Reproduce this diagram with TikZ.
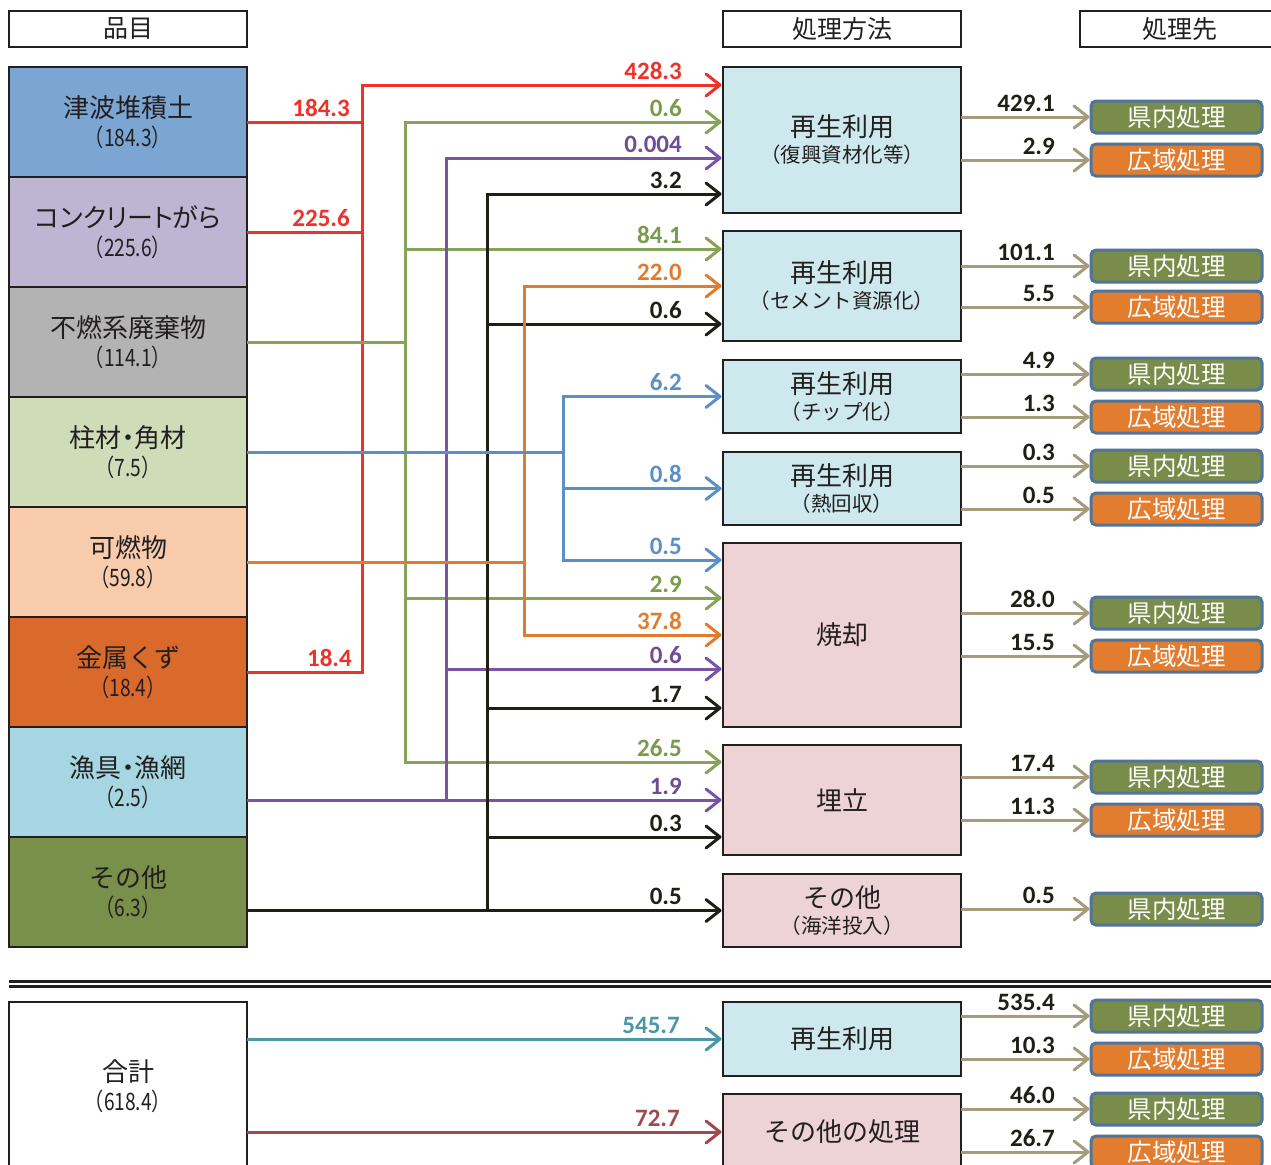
\documentclass[tikz,border=0pt]{standalone}
\usepackage{fontspec}
\newfontfamily\jp{Noto Sans CJK JP}
\newfontfamily\jpp{Noto Sans CJK JP}[RawFeature=+palt]
\newfontfamily\jpn{Noto Sans CJK JP}[FakeStretch=0.8]
\newfontfamily\numf{Carlito}
\usetikzlibrary{arrows.meta,calc}
\definecolor{cR}{HTML}{EE3129}
\definecolor{cG}{HTML}{88A25A}
\definecolor{cGl}{HTML}{7A9A4C}
\definecolor{cP}{HTML}{7B53A6}
\definecolor{cPl}{HTML}{6C4E95}
\definecolor{cK}{HTML}{1F1F17}
\definecolor{cO}{HTML}{E07C2F}
\definecolor{cB}{HTML}{5B8FC6}
\definecolor{cT}{HTML}{A49C7A}
\definecolor{cTe}{HTML}{4A97A9}
\definecolor{cBr}{HTML}{A2494D}
\definecolor{ink}{HTML}{231F20}
\definecolor{f1}{HTML}{7BA6D4}
\definecolor{f2}{HTML}{BEB5D2}
\definecolor{f3}{HTML}{B3B3B4}
\definecolor{f4}{HTML}{CEDCB8}
\definecolor{f5}{HTML}{F7CBAB}
\definecolor{f6}{HTML}{D96A2C}
\definecolor{f7}{HTML}{A5D6E2}
\definecolor{f8}{HTML}{78904A}
\definecolor{mB}{HTML}{CDE9EE}
\definecolor{mP}{HTML}{EDD2D6}
\definecolor{dG}{HTML}{7A8C4A}
\definecolor{dO}{HTML}{E27D30}
\definecolor{dBd}{HTML}{50749A}
\newcommand\subt[1]{{\jpn\fontsize{24}{29}\selectfont #1}}
\newcommand\msub[1]{{\fontsize{20.5}{26}\selectfont #1}}
\begin{document}
\begin{tikzpicture}[x=1pt,y=-1pt,
  box/.style={draw=ink, line width=2pt, inner sep=0pt, outer sep=0pt, align=center, text=ink},
  item/.style={box, minimum width=238pt, minimum height=110pt, font=\jp\fontsize{26}{29}\selectfont},
  meth/.style={box, minimum width=238pt, fill=mB, font=\jp\fontsize{26}{26}\selectfont},
  hdr/.style={box, minimum height=36pt, font=\jp\fontsize{25}{25}\selectfont},
  dest/.style={draw=dBd, line width=3pt, rounded corners=5pt, minimum width=171pt, minimum height=32pt, inner sep=0pt, outer sep=0pt, text=white, font=\jp\fontsize{24.5}{24.5}\selectfont},
  dgr/.style={dest, fill=dG},
  dor/.style={dest, fill=dO},
  lab/.style={font=\numf\bfseries\fontsize{25}{25}\selectfont, inner sep=0pt, anchor=base east},
  conn/.style={line width=3pt},
  arr/.style={conn, -{Straight Barb[length=14pt,width=22pt,round]}, shorten >=1.5pt}
]
\clip (0,0) rectangle (1271,1164);
\fill[white] (0,0) rectangle (1271,1164);

% headers
\node[hdr, minimum width=238pt] (h1) at (128,29) {品目};
\node[hdr, minimum width=238pt] (h2) at (842,29) {処理方法};
\node[hdr, minimum width=200pt] (h3) at (1180,29) {処理先};

% items
\node[item, fill=f1] (a1) at (128,122) {津波堆積土\\\subt{（184.3）}};
\node[item, fill=f2] (a2) at (128,232) {\jpp コンクリートがら\\\subt{（225.6）}};
\node[item, fill=f3] (a3) at (128,342) {不燃系廃棄物\\\subt{（114.1）}};
\node[item, fill=f4] (a4) at (128,452) {\jpp 柱材・角材\\\subt{（7.5）}};
\node[item, fill=f5] (a5) at (128,562) {可燃物\\\subt{（59.8）}};
\node[item, fill=f6] (a6) at (128,672) {金属くず\\\subt{（18.4）}};
\node[item, fill=f7] (a7) at (128,782) {\jpp 漁具・漁網\\\subt{（2.5）}};
\node[item, fill=f8] (a8) at (128,892) {その他\\\subt{（6.3）}};

% methods
\node[meth, minimum height=146pt] (m1) at (842,140) {再生利用\\\msub{（復興資材化等）}};
\node[meth, minimum height=110pt] (m2) at (842,286) {再生利用\\\msub{（セメント資源化）}};
\node[meth, minimum height=73pt] (m3) at (842,396.5) {再生利用\\\msub{（チップ化）}};
\node[meth, minimum height=73pt] (m4) at (842,488.5) {再生利用\\\msub{（熱回収）}};
\node[meth, minimum height=184pt, fill=mP] (m5) at (842,635) {焼却};
\node[meth, minimum height=110pt, fill=mP] (m6) at (842,800) {埋立};
\node[meth, minimum height=73pt, fill=mP] (m7) at (842,910.5) {その他\\\msub{（海洋投入）}};

% destinations
\node[dgr] (d1) at (1176.5,117) {県内処理};
\node[dor] (d2) at (1176.5,160) {広域処理};
\node[dgr] (d3) at (1176.5,266) {県内処理};
\node[dor] (d4) at (1176.5,307) {広域処理};
\node[dgr] (d5) at (1176.5,374) {県内処理};
\node[dor] (d6) at (1176.5,417) {広域処理};
\node[dgr] (d7) at (1176.5,466) {県内処理};
\node[dor] (d8) at (1176.5,509) {広域処理};
\node[dgr] (d9) at (1176.5,613) {県内処理};
\node[dor] (d10) at (1176.5,656) {広域処理};
\node[dgr] (d11) at (1176.5,777) {県内処理};
\node[dor] (d12) at (1176.5,820) {広域処理};
\node[dgr] (d13) at (1176.5,909) {県内処理};

% bus x positions
\coordinate (xR) at (362,0);
\coordinate (xG) at (405,0);
\coordinate (xP) at (446,0);
\coordinate (xK) at (487,0);
\coordinate (xO) at (524,0);
\coordinate (xB) at (563,0);

% input targets
\coordinate (iR1) at ([yshift=55pt]m1.west);
\coordinate (iG1) at ([yshift=18pt]m1.west);
\coordinate (iP1) at ([yshift=-18pt]m1.west);
\coordinate (iK1) at ([yshift=-54pt]m1.west);
\coordinate (iG2) at ([yshift=37pt]m2.west);
\coordinate (iO1) at (m2.west);
\coordinate (iK2) at ([yshift=-38pt]m2.west);
\coordinate (iB1) at (m3.west);
\coordinate (iB2) at (m4.west);
\coordinate (iB3) at ([yshift=75pt]m5.west);
\coordinate (iG3) at ([yshift=37pt]m5.west);
\coordinate (iO2) at (m5.west);
\coordinate (iP2) at ([yshift=-34pt]m5.west);
\coordinate (iK3) at ([yshift=-73pt]m5.west);
\coordinate (iG4) at ([yshift=38pt]m6.west);
\coordinate (iP3) at (m6.west);
\coordinate (iK4) at ([yshift=-37pt]m6.west);
\coordinate (iK5) at (m7.west);

% red
\draw[conn, cR] (a1.east) -- (a1.east -| xR);
\draw[conn, cR] (a2.east) -- (a2.east -| xR);
\draw[arr, cR] (a6.east) -| (xR |- iR1) -- (iR1);
% green
\draw[arr, cG] (a3.east) -| (xG |- iG1) -- (iG1);
\draw[arr, cG] (a3.east -| xG) |- (iG4);
\draw[arr, cG] (xG |- iG2) -- (iG2);
\draw[arr, cG] (xG |- iG3) -- (iG3);
% purple
\draw[arr, cP] (iP3 -| a7.east) -- (iP3);
\draw[arr, cP] (iP3 -| xP) |- (iP1);
\draw[arr, cP] (xP |- iP2) -- (iP2);
% black
\draw[arr, cK] (iK5 -| a8.east) -- (iK5);
\draw[arr, cK] (iK5 -| xK) |- (iK1);
\draw[arr, cK] (xK |- iK2) -- (iK2);
\draw[arr, cK] (xK |- iK3) -- (iK3);
\draw[arr, cK] (xK |- iK4) -- (iK4);
% orange
\draw[arr, cO] (a5.east) -| (xO |- iO1) -- (iO1);
\draw[arr, cO] (a5.east -| xO) |- (iO2);
% blue
\draw[arr, cB] (a4.east) -| (xB |- iB1) -- (iB1);
\draw[arr, cB] (a4.east -| xB) |- (iB3);
\draw[arr, cB] (xB |- iB2) -- (iB2);

% left labels
\node[lab, text=cR] (l1) at ([xshift=103pt,yshift=6pt]a1.east) {184.3};
\node[lab, text=cR] (l2) at ([xshift=103pt,yshift=6pt]a2.east) {225.6};
\node[lab, text=cR] (l3) at ([xshift=105pt,yshift=6pt]a6.east) {18.4};

% input labels
\node[lab, text=cR]  (n1) at ([xshift=-41pt,yshift=6pt]iR1) {428.3};
\node[lab, text=cGl] (n2) at ([xshift=-41pt,yshift=6pt]iG1) {0.6};
\node[lab, text=cPl] (n3) at ([xshift=-41pt,yshift=6pt]iP1) {0.004};
\node[lab, text=cK]  (n4) at ([xshift=-41pt,yshift=6pt]iK1) {3.2};
\node[lab, text=cGl] (n5) at ([xshift=-41pt,yshift=6pt]iG2) {84.1};
\node[lab, text=cO]  (n6) at ([xshift=-41pt,yshift=6pt]iO1) {22.0};
\node[lab, text=cK]  (n7) at ([xshift=-41pt,yshift=6pt]iK2) {0.6};
\node[lab, text=cB]  (n8) at ([xshift=-41pt,yshift=6pt]iB1) {6.2};
\node[lab, text=cB]  (n9) at ([xshift=-41pt,yshift=6pt]iB2) {0.8};
\node[lab, text=cB]  (n10) at ([xshift=-41pt,yshift=6pt]iB3) {0.5};
\node[lab, text=cGl] (n11) at ([xshift=-41pt,yshift=6pt]iG3) {2.9};
\node[lab, text=cO]  (n12) at ([xshift=-41pt,yshift=6pt]iO2) {37.8};
\node[lab, text=cPl] (n13) at ([xshift=-41pt,yshift=6pt]iP2) {0.6};
\node[lab, text=cK]  (n14) at ([xshift=-41pt,yshift=6pt]iK3) {1.7};
\node[lab, text=cGl] (n15) at ([xshift=-41pt,yshift=6pt]iG4) {26.5};
\node[lab, text=cPl] (n16) at ([xshift=-41pt,yshift=6pt]iP3) {1.9};
\node[lab, text=cK]  (n17) at ([xshift=-41pt,yshift=6pt]iK4) {0.3};
\node[lab, text=cK]  (n18) at ([xshift=-41pt,yshift=6pt]iK5) {0.5};

% outputs
\foreach \m/\d/\v in {m1/d1/429.1, m1/d2/2.9, m2/d3/101.1, m2/d4/5.5, m3/d5/4.9, m3/d6/1.3, m4/d7/0.3, m4/d8/0.5, m5/d9/28.0, m5/d10/15.5, m6/d11/17.4, m6/d12/11.3, m7/d13/0.5}{
  \draw[arr, cT] (\d.west -| \m.east) -- (\d.west);
  \node[lab, text=cK] (o\d) at ([xshift=-36pt,yshift=6pt]\d.west) {\v};
}

% separator
\draw[line width=3pt, ink] (9,981) -- (1271,981);
\draw[line width=3pt, ink] (9,986.5) -- (1271,986.5);

% totals
\node[item, fill=white, minimum height=168pt] (tot) at (128,1086) {合計\\\subt{（618.4）}};
\node[meth, minimum height=74pt] (mb1) at (842,1039) {再生利用};
\node[meth, minimum height=76pt, fill=mP] (mb2) at (842,1132) {その他の処理};
\node[dgr] (d14) at (1176.5,1016) {県内処理};
\node[dor] (d15) at (1176.5,1059) {広域処理};
\node[dgr] (d16) at (1176.5,1109) {県内処理};
\node[dor] (d17) at (1176.5,1152) {広域処理};

\draw[arr, cTe] (mb1.west -| tot.east) -- (mb1.west);
\draw[arr, cBr] (mb2.west -| tot.east) -- (mb2.west);
\node[lab, text=cTe] (t1) at ([xshift=-43pt,yshift=6pt]mb1.west) {545.7};
\node[lab, text=cBr] (t2) at ([xshift=-43pt,yshift=6pt]mb2.west) {72.7};

\foreach \m/\d/\v in {mb1/d14/535.4, mb1/d15/10.3, mb2/d16/46.0, mb2/d17/26.7}{
  \draw[arr, cT] (\d.west -| \m.east) -- (\d.west);
  \node[lab, text=cK] (o\d) at ([xshift=-36pt,yshift=6pt]\d.west) {\v};
}
\end{tikzpicture}
\end{document}
